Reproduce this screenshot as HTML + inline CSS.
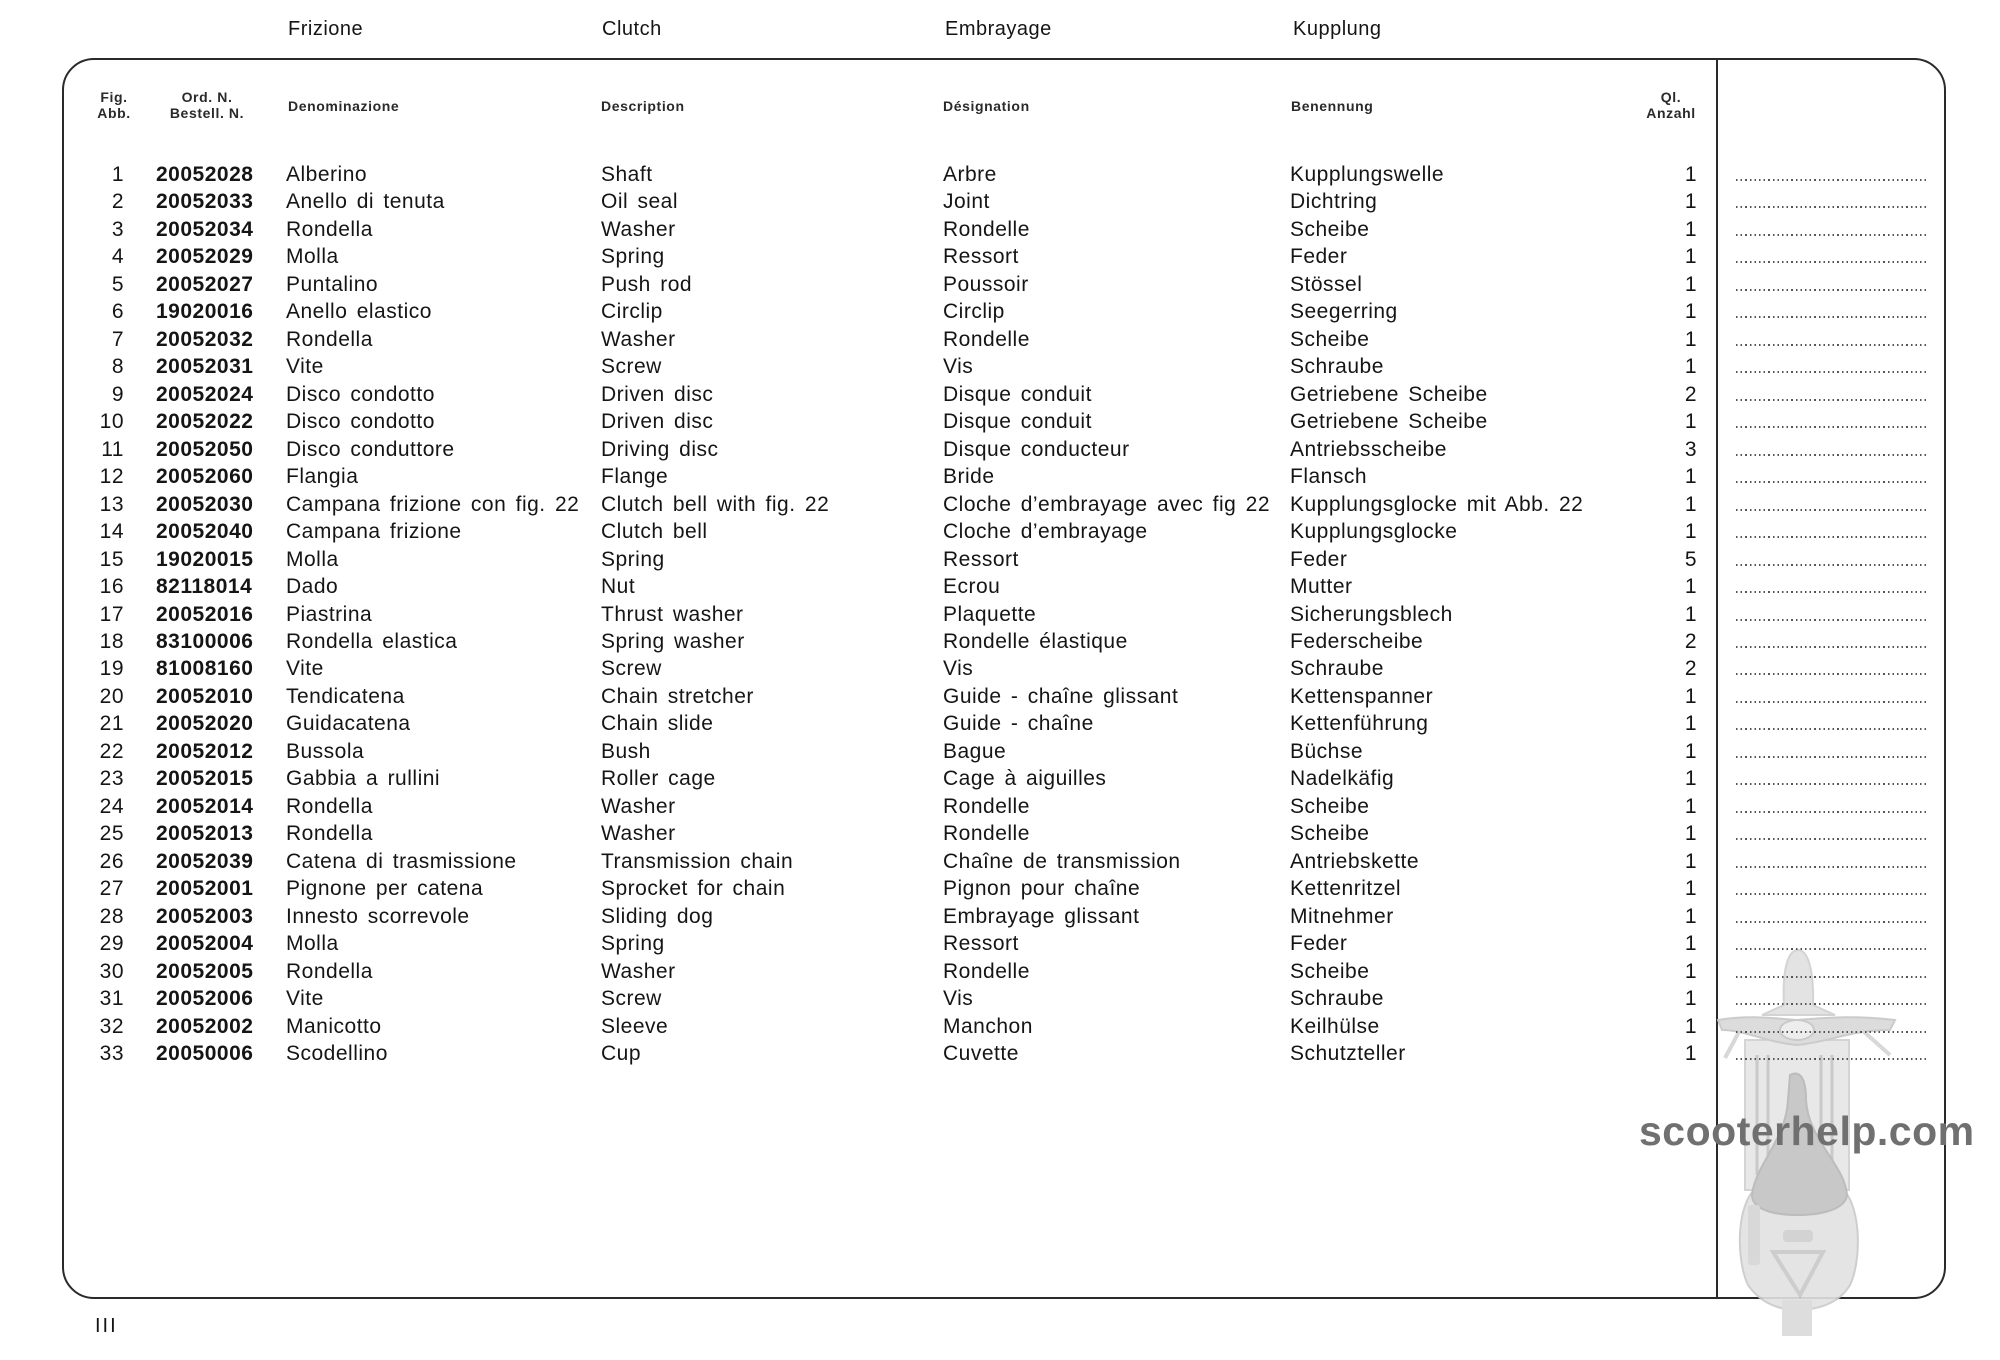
<!DOCTYPE html>
<html>
<head>
<meta charset="utf-8">
<style>
  html,body{margin:0;padding:0;background:#fff;}
  body{width:2000px;height:1360px;position:relative;overflow:hidden;font-family:"Liberation Sans",Arial,sans-serif;color:#151515;}
  .t{position:absolute;top:17px;font-size:20px;line-height:24px;letter-spacing:0.5px;white-space:nowrap;}
  .box{position:absolute;left:62px;top:58px;width:1884px;height:1241px;box-sizing:border-box;border:2px solid #2a2a2a;border-radius:32px;}
  .vd{position:absolute;left:1716px;top:59px;width:2px;height:1239px;background:#2a2a2a;}
  .h{position:absolute;font-size:14px;font-weight:bold;line-height:16px;letter-spacing:0.6px;white-space:nowrap;color:#2a2a2a;}
  .rows{position:absolute;left:0;top:161px;width:2000px;}
  .r{position:relative;height:27.47px;}
  .r span{position:absolute;top:0;line-height:27.47px;font-size:21px;white-space:nowrap;letter-spacing:0.5px;word-spacing:3px;}
  .f{right:1876px;text-align:right;}
  .o{left:156px;font-weight:bold;}
  .d{left:286px;}
  .e{left:601px;}
  .g{left:943px;}
  .b{left:1290px;}
  .q{right:303px;text-align:right;}
  .r i{position:absolute;left:1736px;top:18px;width:192px;height:2px;background:repeating-linear-gradient(90deg,#555 0 1.6px,transparent 1.6px 4.6px);}
  .pn{position:absolute;left:95px;top:1314px;font-size:20px;line-height:24px;letter-spacing:2px;}
  .wm{position:absolute;left:1639px;top:1107px;font-size:41px;line-height:48px;font-weight:bold;color:#707070;letter-spacing:0.5px;white-space:nowrap;}
</style>
</head>
<body>

<div class="t" style="left:288px">Frizione</div>
<div class="t" style="left:602px">Clutch</div>
<div class="t" style="left:945px">Embrayage</div>
<div class="t" style="left:1293px">Kupplung</div>

<div class="box"></div>
<div class="vd"></div>

<div class="h" style="left:84px;top:89px;width:60px;text-align:center">Fig.<br>Abb.</div>
<div class="h" style="left:157px;top:89px;width:100px;text-align:center">Ord. N.<br>Bestell. N.</div>
<div class="h" style="left:288px;top:98px">Denominazione</div>
<div class="h" style="left:601px;top:98px">Description</div>
<div class="h" style="left:943px;top:98px">Désignation</div>
<div class="h" style="left:1291px;top:98px">Benennung</div>
<div class="h" style="left:1636px;top:89px;width:70px;text-align:center">Ql.<br>Anzahl</div>

<svg style="position:absolute;left:0;top:0" width="2000" height="1360" viewBox="0 0 2000 1360">
  <g opacity="0.9">
    <path d="M1760,1185 C1735,1200 1736,1260 1748,1285 C1762,1305 1782,1310 1797,1310 C1815,1310 1838,1305 1850,1285 C1862,1260 1862,1200 1838,1185 Z" fill="#e2e2e2" stroke="#c9c9c9" stroke-width="2"/>
    <path d="M1782,1300 L1782,1336 L1812,1336 L1812,1300 Z" fill="#dadada"/>
    <rect x="1745" y="1040" width="104" height="150" fill="#e6e6e6" stroke="#d0d0d0" stroke-width="2"/>
    <line x1="1757" y1="1055" x2="1757" y2="1175" stroke="#c4c4c4" stroke-width="3"/>
    <line x1="1768" y1="1055" x2="1768" y2="1175" stroke="#c4c4c4" stroke-width="3"/>
    <line x1="1821" y1="1055" x2="1821" y2="1175" stroke="#c4c4c4" stroke-width="3"/>
    <line x1="1832" y1="1055" x2="1832" y2="1175" stroke="#c4c4c4" stroke-width="3"/>
    <path d="M1784,1005 C1782,970 1788,950 1798,950 C1808,950 1814,970 1813,1005 L1835,1015 L1762,1015 Z" fill="#e0e0e0" stroke="#cfcfcf" stroke-width="2"/>
    <path d="M1718,1020 C1750,1015 1770,1018 1797,1020 C1825,1018 1850,1015 1895,1020 L1890,1030 C1850,1030 1830,1042 1797,1045 C1765,1042 1745,1030 1722,1030 Z" fill="#d9d9d9" stroke="#c6c6c6" stroke-width="2"/>
    <line x1="1740" y1="1030" x2="1725" y2="1058" stroke="#d4d4d4" stroke-width="4"/>
    <line x1="1862" y1="1030" x2="1890" y2="1055" stroke="#d4d4d4" stroke-width="4"/>
    <ellipse cx="1797" cy="1030" rx="17" ry="10" fill="#ececec" stroke="#c4c4c4" stroke-width="2"/>
    <path d="M1790,1075 C1800,1070 1806,1078 1806,1100 C1808,1140 1845,1165 1847,1195 C1845,1210 1820,1215 1798,1215 C1775,1215 1752,1210 1752,1195 C1755,1165 1786,1140 1788,1100 Z" fill="#c3c3c3" stroke="#b5b5b5" stroke-width="2"/>
    <rect x="1783" y="1230" width="30" height="12" rx="4" fill="#cfcfcf"/>
    <path d="M1773,1252 L1823,1252 L1800,1295 Z" fill="none" stroke="#c8c8c8" stroke-width="4"/>
    <rect x="1748" y="1205" width="12" height="60" rx="3" fill="#d4d4d4"/>
  </g>
</svg>

<div class="wm">scooterhelp.com</div>

<div class="rows">
<div class="r"><span class="f">1</span><span class="o">20052028</span><span class="d">Alberino</span><span class="e">Shaft</span><span class="g">Arbre</span><span class="b">Kupplungswelle</span><span class="q">1</span><i></i></div>
<div class="r"><span class="f">2</span><span class="o">20052033</span><span class="d">Anello di tenuta</span><span class="e">Oil seal</span><span class="g">Joint</span><span class="b">Dichtring</span><span class="q">1</span><i></i></div>
<div class="r"><span class="f">3</span><span class="o">20052034</span><span class="d">Rondella</span><span class="e">Washer</span><span class="g">Rondelle</span><span class="b">Scheibe</span><span class="q">1</span><i></i></div>
<div class="r"><span class="f">4</span><span class="o">20052029</span><span class="d">Molla</span><span class="e">Spring</span><span class="g">Ressort</span><span class="b">Feder</span><span class="q">1</span><i></i></div>
<div class="r"><span class="f">5</span><span class="o">20052027</span><span class="d">Puntalino</span><span class="e">Push rod</span><span class="g">Poussoir</span><span class="b">Stössel</span><span class="q">1</span><i></i></div>
<div class="r"><span class="f">6</span><span class="o">19020016</span><span class="d">Anello elastico</span><span class="e">Circlip</span><span class="g">Circlip</span><span class="b">Seegerring</span><span class="q">1</span><i></i></div>
<div class="r"><span class="f">7</span><span class="o">20052032</span><span class="d">Rondella</span><span class="e">Washer</span><span class="g">Rondelle</span><span class="b">Scheibe</span><span class="q">1</span><i></i></div>
<div class="r"><span class="f">8</span><span class="o">20052031</span><span class="d">Vite</span><span class="e">Screw</span><span class="g">Vis</span><span class="b">Schraube</span><span class="q">1</span><i></i></div>
<div class="r"><span class="f">9</span><span class="o">20052024</span><span class="d">Disco condotto</span><span class="e">Driven disc</span><span class="g">Disque conduit</span><span class="b">Getriebene Scheibe</span><span class="q">2</span><i></i></div>
<div class="r"><span class="f">10</span><span class="o">20052022</span><span class="d">Disco condotto</span><span class="e">Driven disc</span><span class="g">Disque conduit</span><span class="b">Getriebene Scheibe</span><span class="q">1</span><i></i></div>
<div class="r"><span class="f">11</span><span class="o">20052050</span><span class="d">Disco conduttore</span><span class="e">Driving disc</span><span class="g">Disque conducteur</span><span class="b">Antriebsscheibe</span><span class="q">3</span><i></i></div>
<div class="r"><span class="f">12</span><span class="o">20052060</span><span class="d">Flangia</span><span class="e">Flange</span><span class="g">Bride</span><span class="b">Flansch</span><span class="q">1</span><i></i></div>
<div class="r"><span class="f">13</span><span class="o">20052030</span><span class="d">Campana frizione con fig. 22</span><span class="e">Clutch bell with fig. 22</span><span class="g">Cloche d’embrayage avec fig 22</span><span class="b">Kupplungsglocke mit Abb. 22</span><span class="q">1</span><i></i></div>
<div class="r"><span class="f">14</span><span class="o">20052040</span><span class="d">Campana frizione</span><span class="e">Clutch bell</span><span class="g">Cloche d’embrayage</span><span class="b">Kupplungsglocke</span><span class="q">1</span><i></i></div>
<div class="r"><span class="f">15</span><span class="o">19020015</span><span class="d">Molla</span><span class="e">Spring</span><span class="g">Ressort</span><span class="b">Feder</span><span class="q">5</span><i></i></div>
<div class="r"><span class="f">16</span><span class="o">82118014</span><span class="d">Dado</span><span class="e">Nut</span><span class="g">Ecrou</span><span class="b">Mutter</span><span class="q">1</span><i></i></div>
<div class="r"><span class="f">17</span><span class="o">20052016</span><span class="d">Piastrina</span><span class="e">Thrust washer</span><span class="g">Plaquette</span><span class="b">Sicherungsblech</span><span class="q">1</span><i></i></div>
<div class="r"><span class="f">18</span><span class="o">83100006</span><span class="d">Rondella elastica</span><span class="e">Spring washer</span><span class="g">Rondelle élastique</span><span class="b">Federscheibe</span><span class="q">2</span><i></i></div>
<div class="r"><span class="f">19</span><span class="o">81008160</span><span class="d">Vite</span><span class="e">Screw</span><span class="g">Vis</span><span class="b">Schraube</span><span class="q">2</span><i></i></div>
<div class="r"><span class="f">20</span><span class="o">20052010</span><span class="d">Tendicatena</span><span class="e">Chain stretcher</span><span class="g">Guide - chaîne glissant</span><span class="b">Kettenspanner</span><span class="q">1</span><i></i></div>
<div class="r"><span class="f">21</span><span class="o">20052020</span><span class="d">Guidacatena</span><span class="e">Chain slide</span><span class="g">Guide - chaîne</span><span class="b">Kettenführung</span><span class="q">1</span><i></i></div>
<div class="r"><span class="f">22</span><span class="o">20052012</span><span class="d">Bussola</span><span class="e">Bush</span><span class="g">Bague</span><span class="b">Büchse</span><span class="q">1</span><i></i></div>
<div class="r"><span class="f">23</span><span class="o">20052015</span><span class="d">Gabbia a rullini</span><span class="e">Roller cage</span><span class="g">Cage à aiguilles</span><span class="b">Nadelkäfig</span><span class="q">1</span><i></i></div>
<div class="r"><span class="f">24</span><span class="o">20052014</span><span class="d">Rondella</span><span class="e">Washer</span><span class="g">Rondelle</span><span class="b">Scheibe</span><span class="q">1</span><i></i></div>
<div class="r"><span class="f">25</span><span class="o">20052013</span><span class="d">Rondella</span><span class="e">Washer</span><span class="g">Rondelle</span><span class="b">Scheibe</span><span class="q">1</span><i></i></div>
<div class="r"><span class="f">26</span><span class="o">20052039</span><span class="d">Catena di trasmissione</span><span class="e">Transmission chain</span><span class="g">Chaîne de transmission</span><span class="b">Antriebskette</span><span class="q">1</span><i></i></div>
<div class="r"><span class="f">27</span><span class="o">20052001</span><span class="d">Pignone per catena</span><span class="e">Sprocket for chain</span><span class="g">Pignon pour chaîne</span><span class="b">Kettenritzel</span><span class="q">1</span><i></i></div>
<div class="r"><span class="f">28</span><span class="o">20052003</span><span class="d">Innesto scorrevole</span><span class="e">Sliding dog</span><span class="g">Embrayage glissant</span><span class="b">Mitnehmer</span><span class="q">1</span><i></i></div>
<div class="r"><span class="f">29</span><span class="o">20052004</span><span class="d">Molla</span><span class="e">Spring</span><span class="g">Ressort</span><span class="b">Feder</span><span class="q">1</span><i></i></div>
<div class="r"><span class="f">30</span><span class="o">20052005</span><span class="d">Rondella</span><span class="e">Washer</span><span class="g">Rondelle</span><span class="b">Scheibe</span><span class="q">1</span><i></i></div>
<div class="r"><span class="f">31</span><span class="o">20052006</span><span class="d">Vite</span><span class="e">Screw</span><span class="g">Vis</span><span class="b">Schraube</span><span class="q">1</span><i></i></div>
<div class="r"><span class="f">32</span><span class="o">20052002</span><span class="d">Manicotto</span><span class="e">Sleeve</span><span class="g">Manchon</span><span class="b">Keilhülse</span><span class="q">1</span><i></i></div>
<div class="r"><span class="f">33</span><span class="o">20050006</span><span class="d">Scodellino</span><span class="e">Cup</span><span class="g">Cuvette</span><span class="b">Schutzteller</span><span class="q">1</span><i></i></div>
</div>

<div class="pn">III</div>

</body>
</html>
